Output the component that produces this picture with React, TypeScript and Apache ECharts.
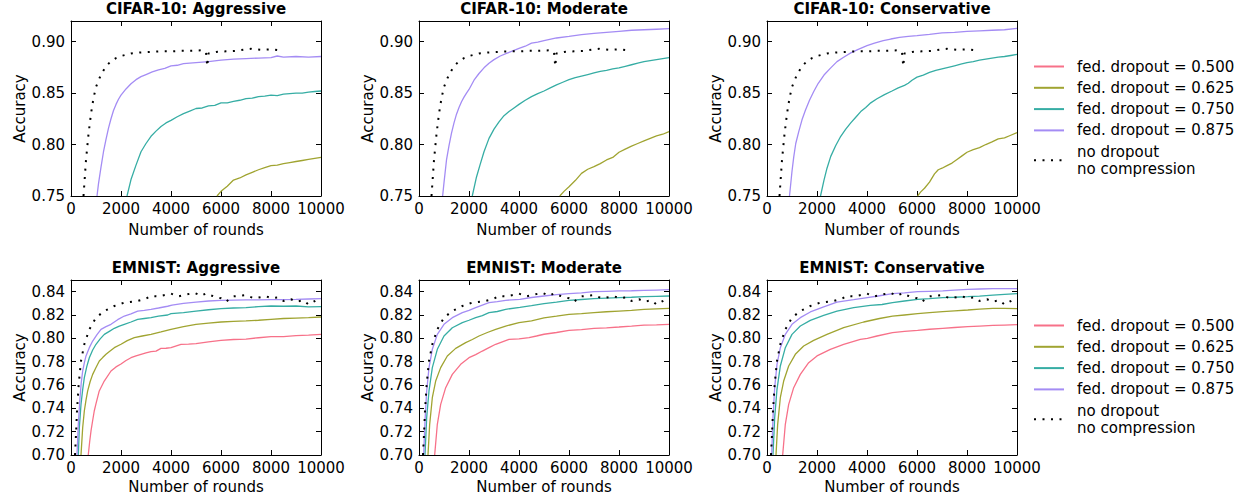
import React, { useEffect, useRef } from "react";
import * as echarts from "echarts";

// ---------------- data ----------------
const seriesNames = [
  "fed. dropout = 0.500",
  "fed. dropout = 0.625",
  "fed. dropout = 0.750",
  "fed. dropout = 0.875",
  "no dropout\nno compression",
];
const seriesColors = ["#f77189", "#a0a431", "#36ada4", "#a48cf4", "#000000"];

const panelTitles = [
  "CIFAR-10: Aggressive",
  "CIFAR-10: Moderate",
  "CIFAR-10: Conservative",
  "EMNIST: Aggressive",
  "EMNIST: Moderate",
  "EMNIST: Conservative",
];

const xTicks = [0, 2000, 4000, 6000, 8000, 10000];
const cifarYTicks = [0.75, 0.8, 0.85, 0.9];
const emnistYTicks = [0.7, 0.72, 0.74, 0.76, 0.78, 0.8, 0.82, 0.84];

// CIFAR-10: fed. dropout = 0.500 stays below the 0.75 axis minimum
const cifarAggr500: number[][] = [];
const cifarMod500: number[][] = [];
const cifarCons500: number[][] = [];

const cifarAggr625 = [[5840,0.75],[6000,0.7545],[6250,0.7595],[6500,0.7655],[6750,0.7675],[7000,0.7705],[7250,0.773],[7500,0.7755],[7750,0.7775],[8000,0.7795],[8250,0.780],[8500,0.7815],[8750,0.7825],[9000,0.7835],[9250,0.7845],[9500,0.7855],[9750,0.7865],[10000,0.7875]];
const cifarAggr750 = [[2240,0.75],[2400,0.766],[2600,0.780],[2800,0.793],[3000,0.801],[3200,0.808],[3400,0.813],[3600,0.8175],[3800,0.821],[4000,0.8235],[4250,0.827],[4500,0.830],[4750,0.8325],[5000,0.835],[5250,0.8355],[5500,0.8375],[5750,0.838],[6000,0.8405],[6250,0.8405],[6500,0.842],[6750,0.843],[7000,0.8445],[7250,0.845],[7500,0.8465],[7750,0.847],[8000,0.848],[8250,0.8475],[8500,0.849],[8750,0.8495],[9000,0.850],[9250,0.850],[9500,0.851],[9750,0.8515],[10000,0.852]];
const cifarAggr875 = [[1040,0.75],[1100,0.762],[1200,0.778],[1300,0.793],[1400,0.805],[1500,0.816],[1600,0.825],[1700,0.833],[1800,0.839],[1900,0.844],[2000,0.848],[2200,0.854],[2400,0.859],[2600,0.863],[2800,0.866],[3000,0.868],[3250,0.8705],[3500,0.8725],[3750,0.874],[4000,0.8765],[4250,0.877],[4500,0.8785],[4750,0.879],[5000,0.8795],[5500,0.8805],[6000,0.882],[6500,0.883],[7000,0.8835],[7500,0.884],[8000,0.8845],[8250,0.886],[8500,0.885],[9000,0.8855],[9500,0.885],[10000,0.8855]];

const cifarMod625 = [[5630,0.75],[5800,0.7545],[6000,0.759],[6250,0.765],[6500,0.772],[6750,0.776],[7000,0.7785],[7250,0.7815],[7500,0.785],[7750,0.7875],[8000,0.7925],[8250,0.7955],[8500,0.7985],[8750,0.801],[9000,0.8035],[9250,0.806],[9500,0.8085],[9750,0.810],[10000,0.8125]];
const cifarMod750 = [[2130,0.75],[2300,0.7685],[2450,0.781],[2600,0.793],[2800,0.806],[3000,0.815],[3200,0.822],[3400,0.828],[3600,0.832],[3800,0.8355],[4000,0.839],[4250,0.843],[4500,0.8465],[4750,0.8495],[5000,0.852],[5250,0.855],[5500,0.858],[5750,0.8605],[6000,0.863],[6250,0.865],[6500,0.8665],[6750,0.868],[7000,0.8695],[7250,0.871],[7500,0.872],[7750,0.8735],[8000,0.8745],[8250,0.876],[8500,0.8775],[8750,0.879],[9000,0.8805],[9250,0.8815],[9500,0.8825],[9750,0.8835],[10000,0.8845]];
const cifarMod875 = [[945,0.75],[1000,0.763],[1100,0.785],[1200,0.799],[1300,0.811],[1400,0.821],[1500,0.8295],[1600,0.836],[1700,0.8415],[1800,0.846],[1900,0.850],[2000,0.8535],[2200,0.8625],[2400,0.869],[2600,0.8745],[2800,0.879],[3000,0.8825],[3250,0.886],[3500,0.8885],[3750,0.891],[4000,0.8935],[4250,0.8955],[4500,0.8985],[4750,0.8995],[5000,0.901],[5500,0.9035],[6000,0.905],[6500,0.9068],[7000,0.908],[7500,0.909],[8000,0.910],[8500,0.911],[9000,0.9115],[9500,0.912],[10000,0.9125]];

const cifarCons625 = [[6020,0.75],[6150,0.754],[6300,0.7575],[6500,0.7635],[6700,0.7715],[6850,0.7755],[7000,0.777],[7200,0.7795],[7400,0.782],[7600,0.7855],[7800,0.789],[8000,0.7925],[8250,0.795],[8500,0.797],[8750,0.800],[9000,0.8025],[9250,0.8055],[9500,0.8065],[9750,0.809],[10000,0.8115]];
const cifarCons750 = [[2140,0.75],[2280,0.7655],[2400,0.777],[2550,0.7885],[2750,0.799],[2950,0.808],[3150,0.815],[3350,0.821],[3550,0.8265],[3750,0.832],[3950,0.836],[4150,0.8405],[4400,0.8445],[4700,0.8485],[5000,0.852],[5250,0.855],[5500,0.8575],[5650,0.8595],[5800,0.8625],[6000,0.8655],[6250,0.8675],[6500,0.870],[6750,0.872],[7000,0.8735],[7250,0.875],[7500,0.8765],[7750,0.878],[8000,0.8795],[8250,0.8805],[8500,0.882],[8750,0.883],[9000,0.884],[9250,0.885],[9500,0.8855],[9750,0.8865],[10000,0.8875]];
const cifarCons875 = [[900,0.75],[1000,0.774],[1070,0.788],[1150,0.801],[1270,0.8125],[1400,0.824],[1540,0.8335],[1700,0.843],[1870,0.8515],[2050,0.8595],[2280,0.8675],[2550,0.8745],[2800,0.8805],[3050,0.8845],[3350,0.889],[3650,0.8925],[4000,0.896],[4300,0.8985],[4650,0.901],[4950,0.9025],[5300,0.904],[5650,0.905],[6000,0.9058],[6500,0.907],[7000,0.9085],[7500,0.909],[8000,0.910],[8500,0.9105],[9000,0.911],[9500,0.9115],[10000,0.9128]];

const cifarBaseline = [[500,0.75],[600,0.785],[700,0.81],[800,0.83],[900,0.845],[1000,0.856],[1200,0.868],[1400,0.876],[1600,0.881],[1800,0.884],[2000,0.886],[2400,0.8885],[2800,0.8895],[3200,0.890],[3600,0.8905],[4000,0.8905],[4400,0.891],[4800,0.891],[5200,0.8915],[5400,0.890],[5450,0.876],[5500,0.8885],[5800,0.890],[6200,0.8905],[6600,0.891],[7000,0.8925],[7200,0.893],[7600,0.892],[8000,0.8925],[8500,0.891]];

const emnistAggr500 = [[690,0.70],[750,0.712],[800,0.7206],[870,0.730],[930,0.7377],[1000,0.744],[1130,0.7549],[1330,0.7634],[1600,0.772],[1800,0.7755],[2000,0.778],[2200,0.781],[2400,0.7834],[2600,0.785],[2800,0.7863],[3000,0.7875],[3200,0.7886],[3400,0.789],[3600,0.7914],[3800,0.7915],[4000,0.792],[4400,0.7949],[4700,0.795],[5000,0.7954],[5500,0.797],[6000,0.7983],[6500,0.799],[7000,0.7994],[7500,0.8005],[8000,0.8014],[8500,0.8015],[9000,0.8023],[9500,0.8028],[10000,0.8034]];
const emnistAggr625 = [[400,0.70],[467,0.7234],[533,0.7377],[600,0.747],[667,0.7549],[767,0.763],[867,0.7691],[1000,0.775],[1133,0.7806],[1267,0.7835],[1400,0.7863],[1550,0.789],[1733,0.792],[2000,0.7949],[2250,0.798],[2533,0.8006],[2850,0.802],[3200,0.8034],[3600,0.8055],[4000,0.8077],[4500,0.810],[5000,0.812],[5500,0.813],[6000,0.814],[6500,0.8145],[7000,0.8149],[7500,0.8155],[8000,0.8163],[8500,0.817],[9000,0.8174],[9500,0.8178],[10000,0.8183]];
const emnistAggr750 = [[293,0.70],[333,0.7234],[400,0.7434],[467,0.756],[533,0.7663],[633,0.776],[733,0.7834],[867,0.790],[1000,0.7949],[1167,0.7995],[1333,0.8034],[1533,0.806],[1733,0.8086],[1933,0.8105],[2133,0.812],[2400,0.814],[2667,0.8163],[2933,0.817],[3200,0.8177],[3500,0.819],[3867,0.820],[4000,0.8211],[4500,0.822],[5000,0.8234],[5500,0.8245],[6000,0.8254],[6500,0.826],[7000,0.8263],[7500,0.8272],[8000,0.8277],[8500,0.8275],[9000,0.8277],[9500,0.827],[10000,0.8271]];
const emnistAggr875 = [[240,0.70],[293,0.7263],[360,0.7491],[410,0.762],[467,0.772],[533,0.779],[600,0.7849],[733,0.792],[867,0.7977],[1033,0.803],[1200,0.8077],[1400,0.810],[1600,0.812],[1867,0.816],[2133,0.8191],[2400,0.821],[2667,0.8234],[2933,0.824],[3200,0.8249],[3500,0.826],[3867,0.8275],[4040,0.8285],[4500,0.830],[5000,0.8311],[5500,0.832],[6000,0.8326],[6500,0.8328],[7000,0.8329],[7500,0.833],[8000,0.8331],[8500,0.8332],[9000,0.8334],[9500,0.8337],[10000,0.834]];

const emnistMod500 = [[627,0.70],[733,0.7263],[867,0.7434],[1067,0.7577],[1333,0.7691],[1667,0.7777],[2000,0.7834],[2267,0.786],[2533,0.7891],[2800,0.792],[3067,0.7949],[3333,0.797],[3600,0.7991],[4000,0.7995],[4400,0.8006],[4700,0.802],[5000,0.8035],[5500,0.805],[6000,0.8069],[6500,0.8075],[7000,0.8086],[7500,0.809],[8000,0.8097],[8500,0.8105],[9000,0.8114],[9500,0.8115],[10000,0.812]];
const emnistMod625 = [[360,0.70],[427,0.7263],[533,0.7491],[667,0.7634],[867,0.7749],[1133,0.7849],[1467,0.7914],[1867,0.7963],[2133,0.799],[2400,0.802],[2733,0.805],[3067,0.8077],[3467,0.8105],[4000,0.8135],[4500,0.815],[5000,0.8175],[5500,0.819],[6000,0.8206],[6500,0.8212],[7000,0.822],[7500,0.8228],[8000,0.8234],[8500,0.824],[9000,0.8249],[9500,0.8253],[10000,0.8257]];
const emnistMod750 = [[240,0.70],[307,0.732],[400,0.7549],[533,0.7749],[733,0.7906],[1000,0.802],[1333,0.8091],[1733,0.8134],[2000,0.8155],[2267,0.8177],[2533,0.8195],[2800,0.822],[3133,0.823],[3467,0.8249],[4035,0.8265],[4500,0.828],[5000,0.8297],[5500,0.831],[6000,0.8326],[6500,0.8333],[7000,0.834],[7500,0.8345],[8000,0.8349],[8500,0.8352],[9000,0.8357],[9500,0.836],[10000,0.8363]];
const emnistMod875 = [[187,0.70],[240,0.7291],[307,0.7549],[400,0.7749],[533,0.7906],[733,0.8034],[1000,0.812],[1333,0.8177],[1733,0.822],[2000,0.824],[2267,0.8263],[2533,0.8285],[2800,0.8306],[3133,0.8315],[3467,0.8326],[4035,0.8334],[4500,0.835],[5000,0.8363],[5500,0.8375],[6000,0.8383],[6500,0.839],[7000,0.84],[7500,0.8403],[8000,0.8406],[8500,0.8408],[9000,0.8411],[9500,0.8414],[10000,0.8417]];

const emnistCons500 = [[627,0.70],[733,0.7263],[867,0.7434],[1067,0.7577],[1333,0.7691],[1667,0.7791],[2000,0.7849],[2533,0.7906],[3067,0.7949],[3733,0.7991],[4016,0.80],[4400,0.802],[5020,0.8049],[5500,0.806],[6024,0.8069],[6500,0.8078],[7028,0.8086],[7500,0.8093],[8032,0.81],[8500,0.8105],[9036,0.8111],[9500,0.8114],[10000,0.8117]];
const emnistCons625 = [[360,0.70],[427,0.7263],[533,0.7491],[667,0.7634],[867,0.7763],[1133,0.7863],[1467,0.7934],[1867,0.7983],[2400,0.8034],[3067,0.8091],[3867,0.814],[4500,0.817],[5020,0.819],[5500,0.820],[6024,0.8211],[6500,0.822],[7028,0.8229],[7500,0.8236],[8032,0.8243],[8500,0.825],[9036,0.8257],[9500,0.8256],[10000,0.8254]];
const emnistCons750 = [[240,0.70],[307,0.732],[400,0.7563],[533,0.7763],[733,0.792],[1000,0.8034],[1333,0.8106],[1733,0.8154],[2267,0.8197],[2800,0.8234],[3467,0.8263],[4133,0.8283],[4600,0.829],[5020,0.8306],[5500,0.832],[6024,0.8334],[6500,0.834],[7028,0.8349],[7500,0.8352],[8032,0.8357],[8500,0.8362],[9036,0.8371],[9500,0.8377],[10000,0.8383]];
const emnistCons875 = [[187,0.70],[240,0.732],[307,0.7577],[400,0.7777],[533,0.792],[733,0.8034],[1000,0.812],[1333,0.8177],[1733,0.8226],[2267,0.8269],[2800,0.8311],[3467,0.8331],[4016,0.8349],[4500,0.8365],[5020,0.8383],[5500,0.839],[6024,0.84],[6500,0.8403],[7028,0.8406],[7500,0.8413],[8032,0.842],[8500,0.8423],[9036,0.8426],[9500,0.8426],[10000,0.8426]];

const emnistBaseline = [[160,0.70],[200,0.7177],[240,0.7377],[307,0.7606],[400,0.7806],[533,0.7949],[733,0.8077],[1000,0.8177],[1333,0.8234],[1733,0.8277],[2133,0.8306],[2667,0.832],[3000,0.834],[3200,0.8363],[3500,0.836],[3867,0.8377],[4000,0.8383],[4300,0.836],[4600,0.8375],[4933,0.839],[5200,0.8365],[5400,0.8385],[5700,0.836],[6000,0.8343],[6200,0.8315],[6500,0.836],[7000,0.837],[7300,0.8345],[7500,0.8349],[7800,0.836],[8000,0.8345],[8300,0.835],[8500,0.832],[8800,0.8335],[9000,0.8315],[9300,0.8325],[9500,0.829],[9800,0.8325],[10000,0.8306]];

// ---------------- chart ----------------
const FONT = "DejaVu Sans";

export default function App() {
  const ref = useRef<HTMLDivElement>(null);
  useEffect(() => {
    if (!ref.current) return;
    const chart = echarts.init(ref.current, undefined, { renderer: "svg" });

    const panelData = [
      [cifarAggr500, cifarAggr625, cifarAggr750, cifarAggr875, cifarBaseline],
      [cifarMod500, cifarMod625, cifarMod750, cifarMod875, cifarBaseline],
      [cifarCons500, cifarCons625, cifarCons750, cifarCons875, cifarBaseline],
      [emnistAggr500, emnistAggr625, emnistAggr750, emnistAggr875, emnistBaseline],
      [emnistMod500, emnistMod625, emnistMod750, emnistMod875, emnistBaseline],
      [emnistCons500, emnistCons625, emnistCons750, emnistCons875, emnistBaseline],
    ];

    const lefts = [71, 419, 767];
    const tops = [21, 280];
    const W = 250;
    const H = 175;

    const grids: any[] = [];
    const xAxes: any[] = [];
    const yAxes: any[] = [];
    const titles: any[] = [];
    const series: any[] = [];

    const axisLine = { show: true, onZero: false, lineStyle: { color: "#000", width: 1 } };
    const axisTick = { show: true, inside: true, length: 5, lineStyle: { color: "#000", width: 1 } };
    const labelStyle = { color: "#000", fontSize: 15, fontFamily: FONT };

    for (let i = 0; i < 6; i++) {
      const row = Math.floor(i / 3);
      const col = i % 3;
      const isCifar = row === 0;
      const yT = isCifar ? cifarYTicks : emnistYTicks;
      const yMin = yT[0];
      const yInt = Math.round((yT[1] - yT[0]) * 100) / 100;
      const yMax = isCifar ? 0.92 : 0.85;
      const left = lefts[col];
      const top = tops[row];

      grids.push({ left, top, width: W, height: H });
      titles.push({
        text: panelTitles[i],
        left: left + W / 2,
        top: top - 20,
        textAlign: "center",
        padding: 0,
        textStyle: { fontSize: 15, fontWeight: "bold", color: "#000", fontFamily: FONT },
      });

      const xBase = {
        gridIndex: i,
        type: "value",
        min: xTicks[0],
        max: xTicks[xTicks.length - 1],
        interval: xTicks[1] - xTicks[0],
        axisLine,
        axisTick,
        splitLine: { show: false },
      };
      xAxes.push({
        ...xBase,
        position: "bottom",
        axisLabel: {
          ...labelStyle,
          margin: 5,
          showMinLabel: true,
          showMaxLabel: true,
          formatter: (v: number) => String(Math.round(v)),
        },
        name: "Number of rounds",
        nameLocation: "middle",
        nameGap: row === 0 ? 26 : 24,
        nameTextStyle: labelStyle,
      });
      xAxes.push({ ...xBase, position: "top", axisLabel: { show: false } });

      const yFmt = (v: number) => {
        const k = Math.round((v - yMin) / yInt);
        return Math.abs(yMin + k * yInt - v) < 1e-6 ? v.toFixed(2) : "";
      };
      const yBase = {
        gridIndex: i,
        type: "value",
        min: yMin,
        max: yMax,
        interval: yInt,
        axisLine,
        axisTick,
        splitLine: { show: false },
      };
      yAxes.push({
        ...yBase,
        position: "left",
        axisLabel: { ...labelStyle, margin: 6, formatter: yFmt, showMinLabel: true, showMaxLabel: true },
        name: "Accuracy",
        nameLocation: "middle",
        nameGap: 44,
        nameTextStyle: labelStyle,
      });
      yAxes.push({ ...yBase, position: "right", axisLabel: { show: false } });

      panelData[i].forEach((d, s) => {
        const isBase = s === 4;
        series.push({
          name: seriesNames[s],
          type: "line",
          xAxisIndex: 2 * i,
          yAxisIndex: 2 * i,
          data: d,
          symbol: "none",
          showSymbol: false,
          clip: true,
          color: seriesColors[s],
          lineStyle: isBase
            ? { color: "#000", width: 2, type: [2, 6.5], cap: "butt" }
            : { color: seriesColors[s], width: 1.3 },
          z: isBase ? 3 : 2,
        });
      });
    }

    const legendBase = {
      orient: "vertical",
      left: 1033,
      padding: 0,
      itemWidth: 30,
      itemHeight: 14,
      itemGap: 4.3,
      selectedMode: false,
      data: seriesNames,
      itemStyle: { opacity: 0, borderWidth: 0 },
      textStyle: { ...labelStyle, lineHeight: 17, padding: [0, 0, 0, 8] },
    };

    chart.setOption({
      animation: false,
      backgroundColor: "#fff",
      textStyle: { fontFamily: FONT },
      title: titles,
      grid: grids,
      xAxis: xAxes,
      yAxis: yAxes,
      legend: [
        { ...legendBase, top: 58 },
        { ...legendBase, top: 317 },
      ],
      series,
    });

    return () => chart.dispose();
  }, []);

  return (
    <div
      ref={ref}
      style={{ position: "absolute", left: 0, top: 0, width: 1250, height: 503 }}
    />
  );
}
